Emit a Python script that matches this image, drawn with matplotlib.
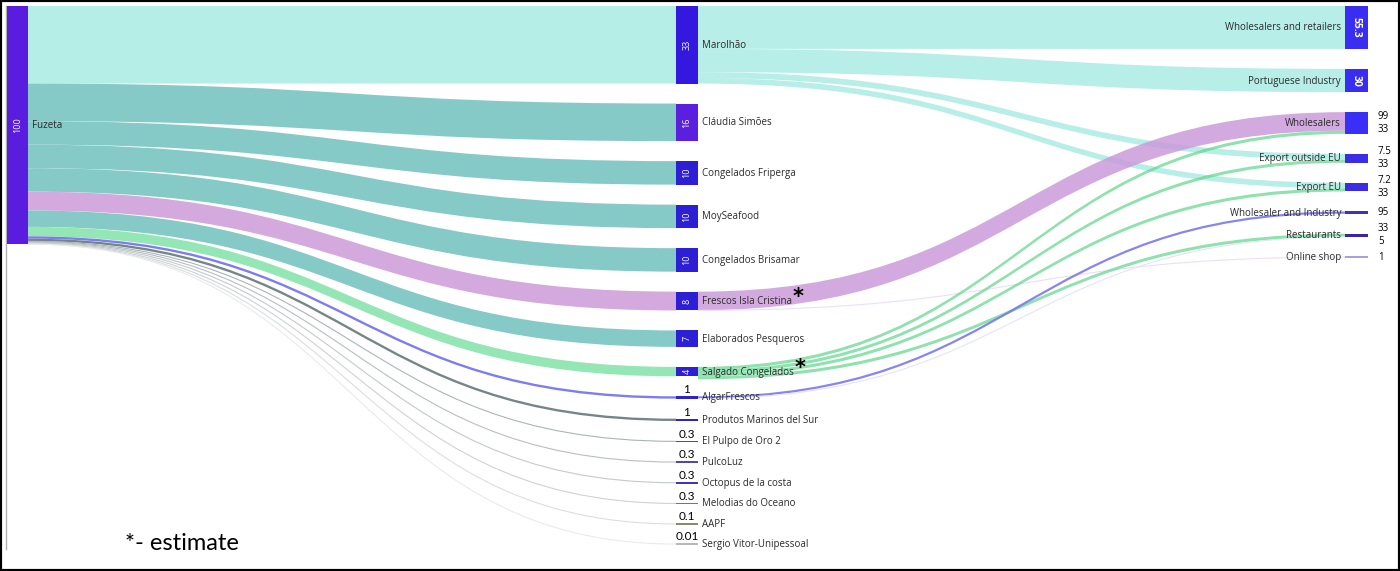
import numpy as np
import matplotlib.pyplot as plt
from matplotlib.path import Path
from matplotlib.patches import PathPatch, Rectangle

plt.rcParams['font.family'] = ['Open Sans', 'DejaVu Sans']

# ---- data ----
origin = "Fuzeta"
origin_tag = "100"

buyers = ["Marolhão", "Cláudia Simões", "Congelados Friperga", "MoySeafood",
          "Congelados Brisamar", "Frescos Isla Cristina", "Elaborados Pesqueros",
          "Salgado Congelados", "AlgarFrescos", "Produtos Marinos del Sur",
          "El Pulpo de Oro 2", "PulcoLuz", "Octopus de la costa",
          "Melodias do Oceano", "AAPF", "Sergio Vitor-Unipessoal"]
buyer_share = [33, 16, 10, 10, 10, 8, 7, 4, 1, 1, 0.3, 0.3, 0.3, 0.3, 0.1, 0.01]
buyer_tags = ["33", "16", "10", "10", "10", "8", "7", "4",
              "1", "1", "0.3", "0.3", "0.3", "0.3", "0.1", "0.01"]
estimated = ["Frescos Isla Cristina", "Salgado Congelados"]

markets = ["Wholesalers and retailers", "Portuguese Industry", "Wholesalers",
           "Export outside EU", "Export EU", "Wholesaler and Industry",
           "Restaurants", "Online shop"]
market_tags = ["55.3", "30", "", "", "", "", "", ""]

# second stage: buyer -> market, in % of the buyer's volume
flow_from = (["Marolhão"] * 4 + ["Frescos Isla Cristina"] * 2
             + ["Salgado Congelados"] * 4 + ["AlgarFrescos"] * 2)
flow_to = ["Wholesalers and retailers", "Portuguese Industry", "Export outside EU", "Export EU",
           "Wholesalers", "Online shop",
           "Wholesalers", "Export outside EU", "Export EU", "Restaurants",
           "Wholesaler and Industry", "Restaurants"]
flow_pct = [55.3, 30, 7.5, 7.2, 99, 1, 33, 33, 33, 33, 95, 5]

# ---- colours ----
buyer_link_col = ["#b4eee6", "#86cac8", "#86cac8", "#86cac8", "#86cac8", "#d3a9de",
                  "#86cac8", "#95e6b5", "#7d7cf2", "#768688", "#aab3b6", "#b7bec1",
                  "#c3c9cb", "#cdd2d4", "#dadee0", "#e8eaec"]
buyer_node_col = ["#3518e0", "#5b1fe0", "#2c1fd6", "#2c1fd6", "#2c1fd6", "#2c1fd6",
                  "#2c1fd6", "#2c1fd6", "#2e22c8", "#2e22c8", "#4d47b5", "#4d47b5",
                  "#3f37ba", "#7c7762", "#8d8672", "#b8b8b8"]
market_node_col = ["#3a2df2", "#3a2df2", "#3a2ff6", "#3b2de4", "#3b2de4",
                   "#4b2cb8", "#3a23aa", "#a99fe2"]
flow_col = ["#9fe9df"] * 4 + ["#c995d8", "#ecdff5"] + ["#5fd68a"] * 4 + ["#7b78ee", "#e6e3f9"]
flow_alpha = [0.75] * 4 + [0.8, 1] + [0.7] * 4 + [0.9, 1]

# ---- layout (pixels) ----
PX = 2.35      # pixels per unit
PAD = 20
TOP = 6
LX, LW = 7, 21
MX, MW = 676, 22
RX, RW = 1345, 23

fig = plt.figure(figsize=(14, 5.71), dpi=100)
ax = fig.add_axes([0, 0, 1, 1])
ax.set_xlim(0, 1400)
ax.set_ylim(571, 0)
ax.axis('off')


def link(x0, a0, b0, x1, a1, b1, color, alpha=1.0):
    xm = (x0 + x1) / 2
    if b0 - a0 >= 2.5:
        verts = [(x0, a0), (xm, a0), (xm, a1), (x1, a1), (x1, b1),
                 (xm, b1), (xm, b0), (x0, b0), (x0, a0)]
        codes = [Path.MOVETO, Path.CURVE4, Path.CURVE4, Path.CURVE4, Path.LINETO,
                 Path.CURVE4, Path.CURVE4, Path.CURVE4, Path.CLOSEPOLY]
        ax.add_patch(PathPatch(Path(verts, codes), fc=color, ec='none', alpha=alpha, zorder=1))
    else:
        c0, c1 = (a0 + b0) / 2, (a1 + b1) / 2
        verts = [(x0, c0), (xm, c0), (xm, c1), (x1, c1)]
        codes = [Path.MOVETO, Path.CURVE4, Path.CURVE4, Path.CURVE4]
        lw = max(b0 - a0, 1.1) * 0.72
        ax.add_patch(PathPatch(Path(verts, codes), fc='none', ec=color, lw=lw,
                               alpha=alpha, zorder=1))


# middle column positions
mid_top = {}
mid_h = {}
y = TOP
for name, v in zip(buyers, buyer_share):
    mid_top[name] = y
    mid_h[name] = v * PX
    y += v * PX + PAD

# market sizes from incoming flows
flow_val = [buyer_share[buyers.index(s)] * p / 100 for s, p in zip(flow_from, flow_pct)]
market_val = [sum(v for t, v in zip(flow_to, flow_val) if t == m) for m in markets]
mk_top = {}
mk_h = {}
y = TOP
for name, v in zip(markets, market_val):
    mk_top[name] = y
    mk_h[name] = v * PX
    y += v * PX + PAD

# first stage links
origin_h = sum(buyer_share) * PX
y = TOP
for name, v, col in zip(buyers, buyer_share, buyer_link_col):
    h = v * PX
    link(LX + LW, y, y + h, MX, mid_top[name], mid_top[name] + h, col)
    y += h

# second stage links, ordered by target at source and by source at target
out_off = {b: 0.0 for b in buyers}
in_off = {m: 0.0 for m in markets}
order = sorted(range(len(flow_from)),
               key=lambda i: (buyers.index(flow_from[i]), markets.index(flow_to[i])))
for i in order:
    s, t, h = flow_from[i], flow_to[i], flow_val[i] * PX
    a0 = mid_top[s] + out_off[s]
    a1 = mk_top[t] + in_off[t]
    link(MX + MW, a0, a0 + h, RX, a1, a1 + h, flow_col[i], flow_alpha[i])
    out_off[s] += h
    in_off[t] += h

# nodes
ax.add_patch(Rectangle((LX, TOP), LW, origin_h, fc="#5a1de0", ec='none', zorder=3))
ax.text(LX + LW / 2, TOP + origin_h / 2, origin_tag, rotation=90, color='white',
        fontsize=6.5, ha='center', va='center', zorder=4)
ax.text(LX + LW + 4, TOP + origin_h / 2, origin, fontsize=7, color='#2a2a2a',
        va='center', zorder=4)

for name, tag, col in zip(buyers, buyer_tags, buyer_node_col):
    h = max(mid_h[name], 1.6)
    cy = mid_top[name] + mid_h[name] / 2
    ax.add_patch(Rectangle((MX, cy - h / 2), MW, h, fc=col, ec='none', zorder=3))
    t = ax.text(MX + MW + 4, cy + 0.5, name, fontsize=7, color='#2a2a2a', va='center', zorder=4)
    if mid_h[name] >= 8:
        ax.text(MX + MW / 2, cy, tag, rotation=90, color='white', fontsize=6.5,
                ha='center', va='center', zorder=4)
    else:
        ax.text(MX + MW / 2, cy - h / 2 - 1, tag, family=['Lato', 'DejaVu Sans'],
                fontsize=8.5, color='black', ha='center', va='bottom', zorder=4)
    if name in estimated:
        ax.annotate("*", xy=(1, 0.5), xycoords=t, xytext=(0.5, 3), textcoords='offset points',
                    fontsize=15, color='black', va='center', ha='left',
                    family=['DejaVu Sans'], fontweight='bold')

for name, tag, col in zip(markets, market_tags, market_node_col):
    h = max(mk_h[name], 1.6)
    cy = mk_top[name] + mk_h[name] / 2
    ax.add_patch(Rectangle((RX, cy - h / 2), RW, h, fc=col, ec='none', zorder=3))
    ax.text(RX - 4, cy + 0.5, name, fontsize=7, color='#2a2a2a', ha='right', va='center', zorder=4)
    if tag:
        ax.text(RX + RW / 2, cy, tag, rotation=-90, color='white', fontsize=7.5,
                fontweight='bold', ha='center', va='center', zorder=4)
    else:
        pcts = [p for f, p in zip(flow_to, flow_pct) if f == name]
        offs = [0] if len(pcts) == 1 else [-6.5, 6.5]
        for p, o in zip(pcts, offs):
            ax.text(RX + RW + 10, cy + o, f"{p:g}", fontsize=7, color='black',
                    ha='left', va='center', zorder=4)

ax.text(125, 544, "*- estimate", family=['Lato', 'DejaVu Sans'], fontsize=17,
        color='black', ha='left', va='center')

# crop edge of the original chart and frame
ax.plot([6, 6], [6, 549], color='#b0b0b0', lw=1, zorder=0)
fig.add_artist(Rectangle((0, 0), 1, 1, transform=fig.transFigure, fill=False,
                         ec='black', lw=3))

fig.savefig("out.png", dpi=100)
